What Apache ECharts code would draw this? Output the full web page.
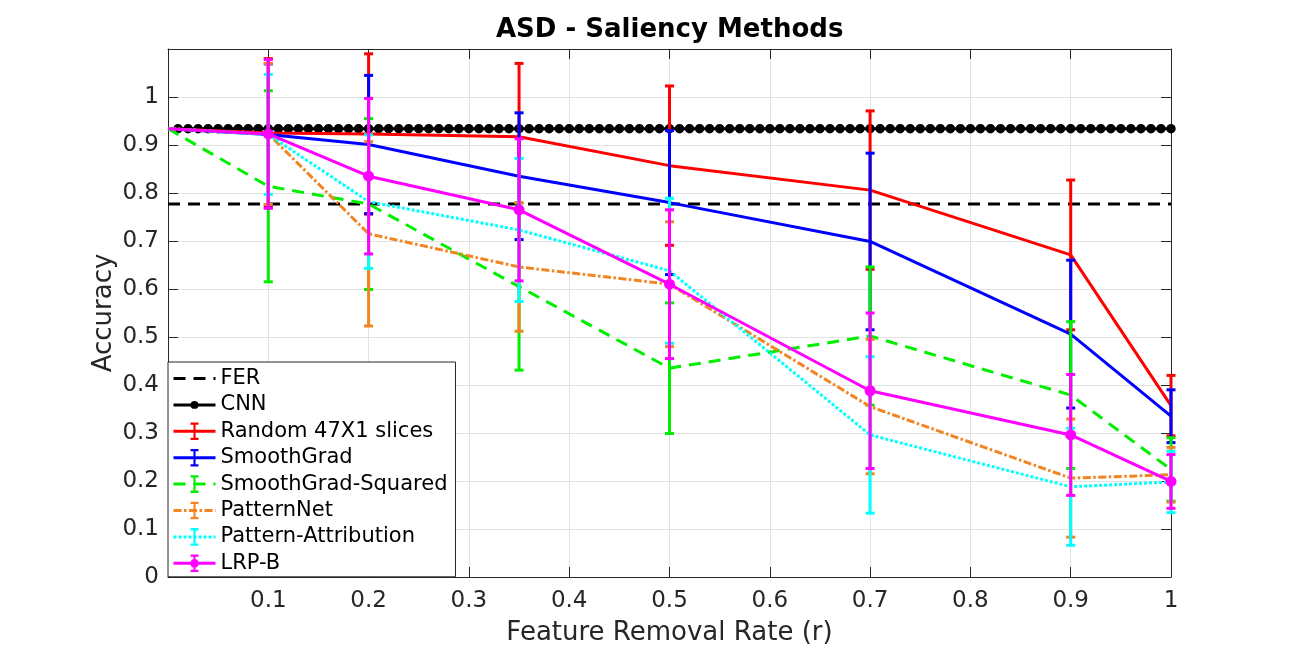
<!DOCTYPE html>
<html>
<head>
<meta charset="utf-8">
<title>ASD - Saliency Methods</title>
<script src="https://cdn.jsdelivr.net/npm/echarts@6.0.0/dist/echarts.min.js"></script>
<style>
  html, body { margin: 0; padding: 0; background: #fff; }
  #chart { width: 1294px; height: 649px; }
</style>
</head>
<body>
<div id="chart"></div>
<script>
// feature removal rate (x) for every method
var rates = [0, 0.1, 0.2, 0.35, 0.5, 0.7, 0.9, 1];

// mean accuracy and error bar half length
var randomMean = [0.934, 0.925, 0.923, 0.917, 0.857, 0.806, 0.671, 0.357];
var randomErr  = [0, 0.155, 0.167, 0.153, 0.166, 0.165, 0.156, 0.063];
var smoothMean = [0.934, 0.922, 0.901, 0.835, 0.780, 0.699, 0.506, 0.335];
var smoothErr  = [0, 0.147, 0.144, 0.132, 0.150, 0.184, 0.154, 0.055];
var squaredMean = [0.934, 0.814, 0.777, 0.605, 0.435, 0.502, 0.379, 0.224];
var squaredErr  = [0, 0.199, 0.178, 0.174, 0.136, 0.144, 0.153, 0.066];
var patternNetMean = [0.934, 0.923, 0.715, 0.646, 0.610, 0.355, 0.206, 0.213];
var patternNetErr  = [0, 0.147, 0.192, 0.134, 0.130, 0.140, 0.123, 0.057];
var attributionMean = [0.934, 0.922, 0.782, 0.723, 0.638, 0.296, 0.188, 0.198];
var attributionErr  = [0, 0.125, 0.139, 0.149, 0.151, 0.163, 0.122, 0.064];
var lrpMean = [0.934, 0.923, 0.835, 0.765, 0.610, 0.388, 0.296, 0.199];
var lrpErr  = [0, 0.155, 0.162, 0.148, 0.155, 0.162, 0.126, 0.056];

// reference levels
var ferLevel = 0.777;
var cnnLevel = 0.934;
var cnnRates = [
  0.01, 0.02, 0.03, 0.04, 0.05, 0.06, 0.07, 0.08, 0.09,
  0.1, 0.11, 0.12, 0.13, 0.14, 0.15, 0.16, 0.17, 0.18, 0.19,
  0.2, 0.21, 0.22, 0.23, 0.24, 0.25, 0.26, 0.27, 0.28, 0.29,
  0.3, 0.31, 0.32, 0.33, 0.34, 0.35, 0.36, 0.37, 0.38, 0.39,
  0.4, 0.41, 0.42, 0.43, 0.44, 0.45, 0.46, 0.47, 0.48, 0.49,
  0.5, 0.51, 0.52, 0.53, 0.54, 0.55, 0.56, 0.57, 0.58, 0.59,
  0.6, 0.61, 0.62, 0.63, 0.64, 0.65, 0.66, 0.67, 0.68, 0.69,
  0.7, 0.71, 0.72, 0.73, 0.74, 0.75, 0.76, 0.77, 0.78, 0.79,
  0.8, 0.81, 0.82, 0.83, 0.84, 0.85, 0.86, 0.87, 0.88, 0.89,
  0.9, 0.91, 0.92, 0.93, 0.94, 0.95, 0.96, 0.97, 0.98, 0.99,
  1
];

var FONT = 'DejaVu Sans';
var AXIS_COLOR = '#262626';

// legend glyphs (the tiny squares only stretch the bounding box)
var ibar = 'path://M5.5 0H14.5V2.6H5.5Z M8.8 2.6H11.2V17.4H8.8Z M5.5 17.4H14.5V20H5.5Z M0 9.8H0.4V10.2H0Z M19.6 9.8H20V10.2H19.6Z';
var ibarDot = ibar + ' M5 10A5 5 0 0 1 15 10A5 5 0 0 1 5 10Z';
var cnnDot = 'path://M5.5 10A4.5 4.5 0 0 1 14.5 10A4.5 4.5 0 0 1 5.5 10Z M0 0H0.2V0.2H0Z M19.8 19.8H20V20H19.8Z';
var noDot = 'path://M0 0H0.1V0.1H0Z M19.9 19.9H20V20H19.9Z';

var methods = [
  {name: 'Random 47X1 slices', mean: randomMean, err: randomErr, color: '#ff0000', dash: 'solid'},
  {name: 'SmoothGrad', mean: smoothMean, err: smoothErr, color: '#0000ff', dash: 'solid'},
  {name: 'SmoothGrad-Squared', mean: squaredMean, err: squaredErr, color: '#00ee00', dash: [12, 8]},
  {name: 'PatternNet', mean: patternNetMean, err: patternNetErr, color: '#f28422', dash: [8, 2.5, 2.5, 2.5]},
  {name: 'Pattern-Attribution', mean: attributionMean, err: attributionErr, color: '#00ffff', dash: [3, 2]},
  {name: 'LRP-B', mean: lrpMean, err: lrpErr, color: '#ff00ff', dash: 'solid', dot: true}
];

function errorBars(color, withDot) {
  return function (params, api) {
    var top = api.coord([api.value(0), api.value(2)]);
    var bot = api.coord([api.value(0), api.value(1)]);
    var mid = api.coord([api.value(0), api.value(3)]);
    var st = {stroke: color, lineWidth: 3};
    var kids = [
      {type: 'line', shape: {x1: top[0], y1: top[1], x2: bot[0], y2: bot[1]}, style: st},
      {type: 'line', shape: {x1: top[0] - 4.5, y1: top[1], x2: top[0] + 4.5, y2: top[1]}, style: st},
      {type: 'line', shape: {x1: bot[0] - 4.5, y1: bot[1], x2: bot[0] + 4.5, y2: bot[1]}, style: st}
    ];
    if (withDot) {
      kids.push({type: 'circle', shape: {cx: mid[0], cy: mid[1], r: 5.5}, style: {fill: color}});
    }
    return {type: 'group', children: kids};
  };
}

var series = [
  {
    name: 'FER', type: 'line', z: 2,
    data: [[0, ferLevel], [1, ferLevel]],
    symbol: noDot, showSymbol: false,
    lineStyle: {color: '#000', width: 3, type: [12, 8]},
    itemStyle: {color: '#000'}
  },
  {
    name: 'CNN', type: 'line', z: 3,
    data: cnnRates.map(function (r) { return [r, cnnLevel]; }),
    symbol: cnnDot, symbolSize: 21, showSymbol: true, showAllSymbol: true,
    lineStyle: {color: '#000', width: 3},
    itemStyle: {color: '#000'}
  }
];

methods.forEach(function (m, i) {
  series.push({
    name: m.name, type: 'line', z: 4 + i * 2,
    data: rates.map(function (r, k) { return [r, m.mean[k]]; }),
    symbol: m.dot ? ibarDot : ibar, showSymbol: false,
    lineStyle: {color: m.color, width: 3, type: m.dash},
    itemStyle: {color: m.color}
  });
  var bars = [];
  rates.forEach(function (r, k) {
    if (m.err[k] > 0) bars.push([r, m.mean[k] - m.err[k], m.mean[k] + m.err[k], m.mean[k]]);
  });
  series.push({
    type: 'custom', z: 5 + i * 2, clip: false,
    renderItem: errorBars(m.color, m.dot),
    encode: {x: 0, y: [1, 2]},
    data: bars
  });
});

function tickText(v) {
  return String(+v.toFixed(1));
}

var chart = echarts.init(document.getElementById('chart'), null, {renderer: 'canvas'});
chart.setOption({
  animation: false,
  backgroundColor: '#fff',
  title: {
    text: 'ASD - Saliency Methods',
    left: 496, top: 17, padding: 0,
    textStyle: {fontFamily: FONT, fontSize: 26, fontWeight: 'bold', color: '#000'}
  },
  grid: {left: 168, right: 123, top: 49, bottom: 72, containLabel: false, outerBoundsMode: 'none'},
  legend: {
    orient: 'vertical', left: 168, top: 362,
    padding: [6, 8, 3, 4],
    itemWidth: 42, itemHeight: 22, itemGap: 5.4,
    backgroundColor: '#fff', borderColor: AXIS_COLOR, borderWidth: 1, borderRadius: 0,
    selectedMode: false, z: 20,
    itemStyle: {borderWidth: 0},
    lineStyle: {width: 'inherit', type: 'inherit'},
    textStyle: {fontFamily: FONT, fontSize: 21, color: '#000'},
    data: ['FER', 'CNN'].concat(methods.map(function (m) { return m.name; }))
  },
  xAxis: [
    {
      type: 'value', min: 0, max: 1, interval: 0.1, position: 'bottom',
      axisLine: {show: true, onZero: false, lineStyle: {color: AXIS_COLOR, width: 1}},
      axisTick: {show: true, inside: true, length: 10, lineStyle: {color: AXIS_COLOR}},
      axisLabel: {
        color: AXIS_COLOR, fontFamily: FONT, fontSize: 23, margin: 13,
        showMinLabel: true, showMaxLabel: true,
        formatter: function (v) { return v === 0 ? '' : tickText(v); }
      },
      splitLine: {show: true, lineStyle: {color: '#e2e2e2', width: 1}},
      name: 'Feature Removal Rate (r)', nameLocation: 'middle', nameGap: 43,
      nameMoveOverlap: false,
      nameTextStyle: {fontFamily: FONT, fontSize: 26, color: AXIS_COLOR}
    },
    {
      type: 'value', min: 0, max: 1, interval: 0.1, position: 'top',
      axisLine: {show: true, onZero: false, lineStyle: {color: AXIS_COLOR, width: 1}},
      axisTick: {show: true, inside: true, length: 10, lineStyle: {color: AXIS_COLOR}},
      axisLabel: {show: false}, splitLine: {show: false}
    }
  ],
  yAxis: [
    {
      type: 'value', min: 0, max: 1.1, interval: 0.1, position: 'left',
      axisLine: {show: true, onZero: false, lineStyle: {color: AXIS_COLOR, width: 1}},
      axisTick: {show: true, inside: true, length: 10, lineStyle: {color: AXIS_COLOR}},
      axisLabel: {
        color: AXIS_COLOR, fontFamily: FONT, fontSize: 23, margin: 9,
        showMinLabel: true, showMaxLabel: true,
        formatter: function (v) { return v > 1.05 ? '' : tickText(v); }
      },
      splitLine: {show: true, lineStyle: {color: '#e2e2e2', width: 1}},
      name: 'Accuracy', nameLocation: 'middle', nameGap: 51,
      nameMoveOverlap: false,
      nameTextStyle: {fontFamily: FONT, fontSize: 26, color: AXIS_COLOR}
    },
    {
      type: 'value', min: 0, max: 1.1, interval: 0.1, position: 'right',
      axisLine: {show: true, onZero: false, lineStyle: {color: AXIS_COLOR, width: 1}},
      axisTick: {show: true, inside: true, length: 10, lineStyle: {color: AXIS_COLOR}},
      axisLabel: {show: false}, splitLine: {show: false}
    }
  ],
  series: series
});
</script>
</body>
</html>
